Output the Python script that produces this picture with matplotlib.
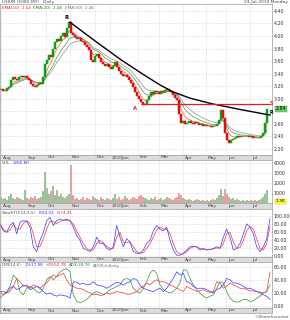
import numpy as np
import pandas as pd
import matplotlib
matplotlib.use("Agg")
import matplotlib.pyplot as plt

# closes, one bar per ~2 trading days (Jul 2009 - Jul 2010)
closes = [3.15, 3.13, 3.13, 3.17, 3.19, 3.30, 3.35, 3.31, 3.30, 3.34,
          3.36, 3.35, 3.37, 3.33, 3.30, 3.24, 3.20, 3.18, 3.22, 3.25,
          3.24, 3.35, 3.55, 3.62, 3.70, 3.66, 3.80, 3.90, 3.95, 3.92,
          4.00, 4.05, 3.98, 4.12, 4.22, 4.05, 4.02, 3.98, 3.95, 3.97,
          3.92, 3.90, 3.86, 3.82, 3.78, 3.62, 3.58, 3.68, 3.72, 3.65,
          3.58, 3.55, 3.52, 3.56, 3.50, 3.48, 3.52, 3.58, 3.50, 3.45,
          3.40, 3.36, 3.38, 3.35, 3.30, 3.25, 3.18, 3.10, 3.05, 3.00,
          2.95, 2.90, 2.92, 2.98, 3.05, 3.10, 3.08, 3.12, 3.10, 3.08,
          3.12, 3.10, 3.14, 3.16, 3.12, 3.10, 3.06, 3.02, 2.98, 2.75,
          2.62, 2.64, 2.60, 2.62, 2.65, 2.62, 2.60, 2.63, 2.61, 2.58,
          2.60, 2.57, 2.58, 2.56, 2.57, 2.55, 2.57, 2.56, 2.60, 2.66,
          2.82, 2.70, 2.45, 2.35, 2.30, 2.34, 2.36, 2.38, 2.40, 2.39,
          2.40, 2.41, 2.40, 2.40, 2.39, 2.40, 2.38, 2.37, 2.38, 2.37,
          2.40, 2.46, 2.62, 2.84]

volume = [600, 400, 500, 300, 700, 900, 500, 400, 600, 500,
          400, 300, 1300, 500, 400, 600, 500, 700, 400, 500,
          600, 1200, 3100, 1500, 900, 1200, 1700, 800, 1300, 700,
          900, 600, 500, 700, 900, 3800, 800, 400, 500, 300,
          400, 600, 300, 500, 400, 300, 700, 500, 400, 300,
          600, 400, 300, 500, 400, 300, 500, 900, 400, 600,
          300, 400, 700, 500, 300, 400, 600, 500, 400, 700,
          800, 600, 500, 400, 300, 500, 400, 600, 300, 400,
          500, 300, 400, 600, 500, 400, 300, 500, 600, 1000,
          800, 500, 400, 300, 400, 300, 200, 300, 400, 300,
          200, 300, 200, 300, 200, 300, 400, 300, 500, 800,
          1400, 700, 1400, 900, 600, 400, 500, 300, 400, 300,
          200, 300, 200, 300, 200, 300, 200, 300, 200, 300,
          400, 600, 900, 1270]

stoch_k = [80, 63, 59, 76, 84, 55, 84, 88, 86, 72,
           23, 11, 39, 59, 88, 96, 76, 88, 92, 89,
           92, 88, 72, 51, 39, 19, 15, 11, 23, 47,
           31, 31, 19, 15, 23, 76, 47, 23, 43, 35,
           11, 7, 7, 15, 31, 39, 63, 76, 67, 63,
           72, 39, 15, 2, 2, 7, 15, 23, 24, 23,
           15, 19, 15, 16, 19, 23, 19, 47, 67, 47,
           15, 19, 31, 55, 80, 72, 55, 23, 11, 23,
           43, 93]
stoch_d = [80, 67, 59, 65, 78, 67, 67, 81, 88, 81,
           55, 23, 23, 43, 67, 86, 86, 81, 86, 89,
           89, 88, 80, 63, 47, 31, 19, 15, 15, 31,
           39, 33, 24, 19, 19, 47, 59, 35, 33, 35,
           23, 11, 7, 8, 19, 31, 47, 65, 72, 67,
           67, 55, 31, 11, 5, 5, 11, 19, 23, 23,
           19, 17, 16, 16, 18, 20, 20, 31, 55, 59,
           35, 19, 21, 39, 63, 73, 67, 43, 19, 15,
           31, 74]

minus_di = [22, 22, 20, 27, 30, 25, 27, 32, 30, 25,
            27, 30, 27, 22, 18, 20, 17, 15, 17, 16,
            15, 12, 37, 36, 33, 35, 32, 33, 37, 32,
            31, 30, 27, 30, 33, 36, 35, 32, 35, 37,
            42, 40, 32, 27, 25, 23, 22, 25, 27, 22,
            27, 35, 42, 52, 47, 50, 37, 35, 30, 27,
            27, 27, 25, 22, 20, 25, 27, 32, 42, 40,
            35, 35, 33, 30, 27, 27, 25, 22, 20, 17,
            15, 10]
plus_di = [22, 17, 20, 22, 30, 42, 37, 30, 32, 27,
           32, 30, 27, 32, 35, 42, 47, 45, 47, 50,
           40, 32, 30, 27, 27, 25, 22, 20, 17, 18,
           16, 17, 20, 18, 20, 22, 21, 20, 18, 18,
           20, 22, 27, 30, 35, 32, 37, 40, 37, 37,
           35, 32, 30, 27, 25, 22, 30, 27, 25, 22,
           23, 25, 22, 21, 22, 37, 35, 27, 30, 35,
           32, 30, 27, 27, 25, 23, 23, 22, 21, 20,
           22, 52]
adx = [12, 17, 22, 30, 47, 42, 22, 17, 27, 30,
       27, 22, 20, 27, 40, 45, 40, 45, 52, 55,
       57, 52, 17, 7, 5, 7, 10, 15, 20, 22,
       20, 17, 20, 25, 27, 30, 32, 40, 42, 40,
       27, 22, 20, 27, 37, 50, 55, 50, 32, 25,
       22, 20, 22, 27, 35, 55, 55, 42, 32, 25,
       20, 15, 12, 15, 17, 27, 37, 35, 22, 12,
       7, 6, 7, 10, 10, 7, 8, 12, 15, 20,
       22, 32]

# hand drawn resistance line (bar index, price)
trend_idx = [34.5, 47.5, 60.5, 72, 79.5, 86, 94.5, 105.5, 119.5, 134.5]
trend_px = [4.22, 3.91, 3.61, 3.37, 3.22, 3.11, 3.01, 2.92, 2.83, 2.74]
support_level = 2.91

months = ['Aug', 'Sep', 'Oct', 'Nov', 'Dec', '2010Jan', 'Feb', 'Mar', 'Apr', 'May', 'Jun', 'Jul']
month_idx = [0, 12.5, 22.5, 34.5, 47, 54.5, 68.5, 79, 91, 102.5, 112.5, 124.5]

W, H = 290, 320
fig = plt.figure(figsize=(W / 100, H / 100), dpi=100)
fig.patch.set_facecolor('white')
renderer = fig.canvas.get_renderer()


def rect(x0, y0, x1, y1):
    return [x0 / W, 1 - y1 / H, (x1 - x0) / W, (y1 - y0) / H]


def px(x, y):
    return x / W, 1 - y / H


def chain(x, y, pieces, fs=3.0):
    # put coloured legend pieces one after another (x, y in pixels from top-left)
    for txt, col in pieces:
        t = fig.text(*px(x, y), txt, fontsize=fs, color=col, va='top', ha='left')
        x += t.get_window_extent(renderer).width + 2.5


GRID = '#c8c8c8'
SPINE = '#9a9a9a'
XLIM = (-0.5, 135.5)


def style(ax, ticks, labels):
    ax.set_xlim(*XLIM)
    ax.set_xticks(month_idx)
    ax.tick_params(axis='x', length=0, labelbottom=False)
    ax.yaxis.tick_right()
    ax.set_yticks(ticks)
    ax.set_yticklabels(labels)
    ax.tick_params(axis='y', length=0, labelsize=3.4, pad=1.2, colors='#333333')
    ax.grid(color=GRID, linestyle=':', linewidth=0.5)
    for s in ax.spines.values():
        s.set_color(SPINE)
        s.set_linewidth(0.5)


def band(y0, y1):
    b = fig.add_axes(rect(0, y0, 272, y1))
    b.set_facecolor('#dcdcdc')
    b.set_xlim(*XLIM)
    b.set_ylim(0, 1)
    b.set_xticks([])
    b.set_yticks([])
    for s in b.spines.values():
        s.set_color(SPINE)
        s.set_linewidth(0.5)
    for m, i in zip(months, month_idx):
        b.text(i + 1, 0.5, m, fontsize=3.2, color='#444444', va='center', ha='left')


idx = np.arange(len(closes))
c = np.array(closes)
o = np.r_[c[0], c[:-1]]
up = c >= o

# ---- price panel
ax = fig.add_axes(rect(0, 4, 272, 155))
pticks = np.round(np.arange(2.2, 4.41, 0.2), 2)
style(ax, pticks, ['' if abs(t - 2.8) < 1e-6 else '%.2f' % t for t in pticks])
ax.set_ylim(2.104, 4.51)
cols = np.where(up, '#10a010', '#e01010')
ax.bar(idx, c - o, bottom=o, width=0.75, color=cols, edgecolor=cols, linewidth=0.35, zorder=3)
s = pd.Series(closes)
ax.plot(idx, s.ewm(span=5).mean(), color='#ff5050', lw=0.5, zorder=2)
ax.plot(idx, s.ewm(span=10).mean(), color='#40a040', lw=0.5, zorder=2)
ax.plot(idx, s.ewm(span=15).mean(), color='#909090', lw=0.5, zorder=2)
ax.plot(trend_idx, trend_px, color='black', lw=1.0, zorder=4)
ax.hlines(support_level, 70, 134.5, color='#e02020', lw=0.9, zorder=4)
ax.text(67, 2.85, 'A', color='#e02020', fontsize=3.8, ha='center', va='center', fontweight='bold')
ax.text(33, 4.29, 'R', color='black', fontsize=3.8, ha='center', va='center', fontweight='bold')
ax.text(135.0, support_level + 0.02, 'S', color='#e02020', fontsize=3.3, ha='center', va='center', fontweight='bold')
ax.text(135.0, 2.78, 'R', color='black', fontsize=3.3, ha='center', va='center', fontweight='bold')
ax.text(1.012, (2.84 - 2.104) / (4.51 - 2.104), '2.84', transform=ax.transAxes, fontsize=3.4,
        va='center', ha='left', color='black',
        bbox=dict(boxstyle='square,pad=0.15', fc='#70d070', ec='#40a040', lw=0.3))
chain(2, 6, [('EMA(10)  2.54', '#e02020'), ('EMA(20)  2.48', '#208020'), ('EMA(30)  2.46', '#707070')])
band(155, 160)

# ---- volume
av = fig.add_axes(rect(0, 160, 272, 203))
style(av, [1000, 2000, 3000, 4000], ['1000', '2000', '3000', '4000'])
av.set_ylim(0, 4300)
vcols = np.where(up, '#9cc49a', '#e0a4a4')
av.bar(idx, volume, width=0.8, color=vcols, zorder=3)
chain(2, 161.5, [('VOL', '#555555'), ('1266.80', '#3030ff')])
av.text(1.012, 0.04, '1.3K', transform=av.transAxes, fontsize=3.2, va='center', ha='left',
        bbox=dict(boxstyle='square,pad=0.15', fc='#ffff30', ec='#c0c000', lw=0.3))
band(203, 209)

# ---- slow stochastic
xs = np.linspace(-0.5, 134.5, len(stoch_k))
ast = fig.add_axes(rect(0, 209, 272, 257))
sticks = [0, 20, 40, 60, 80, 100]
style(ast, sticks, ['%.2f' % t for t in sticks])
ast.set_ylim(-2.4, 117)
ast.plot(xs, stoch_d, color='#ff4040', lw=0.55)
ast.plot(xs, stoch_k, color='#4848ff', lw=0.55)
chain(2, 210.5, [('SlowSTO(14,3,5)', '#555555'), ('K:93.02', '#3030ff'), ('D:74.41', '#e02020')])
band(257, 262)

# ---- DMI
xd = np.linspace(-0.5, 134.5, len(adx))
ad = fig.add_axes(rect(0, 262, 272, 308))
dticks = [0, 20, 40, 60]
style(ad, dticks, ['%.2f' % t for t in dticks])
ad.set_ylim(-3, 67)
ad.plot(xd, adx, color='#40a040', lw=0.55)
ad.plot(xd, plus_di, color='#ff4040', lw=0.55)
ad.plot(xd, minus_di, color='#4848ff', lw=0.55)
chain(2, 263.5, [('DMI(14,6)', '#555555'), ('-DI:17.98', '#3030ff'), ('+DI:52.78', '#e02020'),
                 ('ADX:24.76', '#208020'), ('ADXR:Infinity', '#707070')])
band(308, 313)

# header / footer
fig.text(*px(2, 0.5), 'LIHUN (5085.MY)   Daily', fontsize=3.2, color='#444444', va='top')
fig.text(*px(288, 0.5), '23-Jul-2010 Monday', fontsize=3.2, color='#444444', va='top', ha='right')
fig.text(*px(289, 319.5), '\u00a9ShareInvestor', fontsize=3.2, color='#555555', va='bottom', ha='right')

fig.savefig('out.png', dpi=100)
